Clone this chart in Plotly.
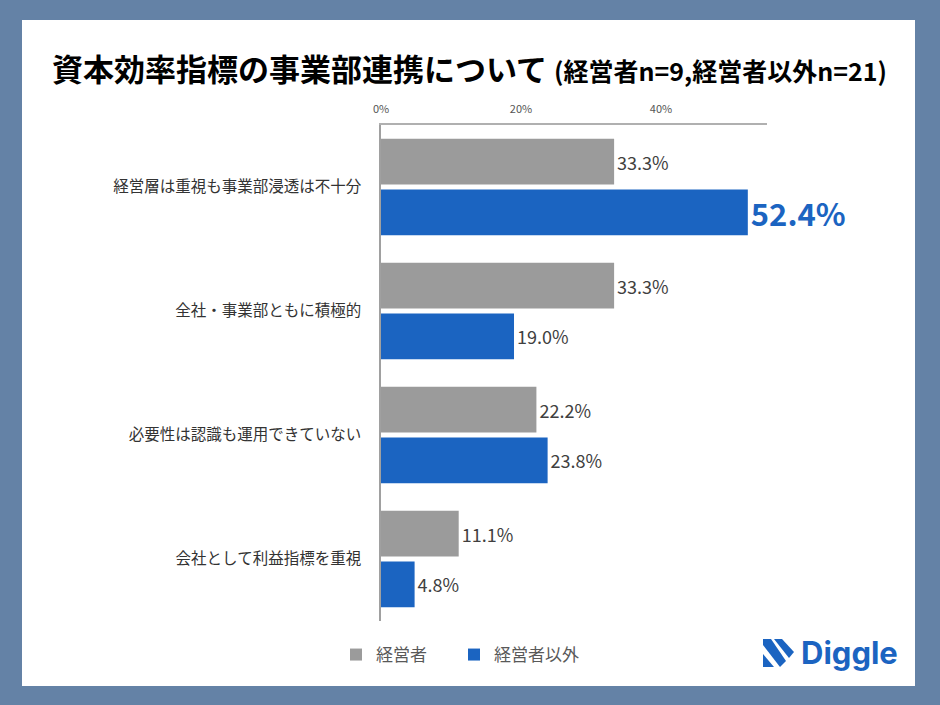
import plotly.graph_objects as go

categories = ["経営層は重視も事業部浸透は不十分", "全社・事業部ともに積極的", "必要性は認識も運用できていない", "会社として利益指標を重視"]
series_names = ["経営者", "経営者以外"]
exec_values = [33.3, 33.3, 22.2, 11.1]
nonexec_values = [52.4, 19.0, 23.8, 4.8]
tick_values = [0, 20, 40]
tick_labels = ["0%", "20%", "40%"]
title_main = "資本効率指標の事業部連携について"
title_sub = "(経営者n=9,経営者以外n=21)"
highlight_index = 0  # index of emphasised value in nonexec series

GRAY = "#9b9b9b"
BLUE = "#1b64c1"
FONT = "Noto Sans CJK JP"

W, H = 940, 705
L, R, T, B = 381, 173, 125, 84
PW, PH = W - L - R, H - T - B


def px(x):
    return (x - L) / PW


def py(y):
    return (H - B - y) / PH


exec_text = [f"{v:.1f}%" for v in exec_values]
nonexec_text = [f"<b>{v:.1f}%</b>" if i == highlight_index else f"{v:.1f}%" for i, v in enumerate(nonexec_values)]
nonexec_sizes = [31 if i == highlight_index else 18 for i in range(len(nonexec_values))]
nonexec_colors = [BLUE if i == highlight_index else "#404040" for i in range(len(nonexec_values))]

fig = go.Figure()
fig.add_trace(go.Bar(
    name=series_names[0], y=categories, x=exec_values, orientation="h",
    marker=dict(color=GRAY, line=dict(width=0)),
    text=exec_text, textposition="outside", cliponaxis=False, constraintext="none",
    textfont=dict(family=FONT, size=18, color="#404040"),
    hoverinfo="skip", legend="legend",
))
fig.add_trace(go.Bar(
    name=series_names[1], y=categories, x=nonexec_values, orientation="h",
    marker=dict(color=BLUE, line=dict(width=0)),
    text=nonexec_text, textposition="outside", cliponaxis=False, constraintext="none",
    textfont=dict(family=FONT, size=nonexec_sizes, color=nonexec_colors),
    hoverinfo="skip", legend="legend2",
))

shapes = [
    dict(type="rect", xref="paper", yref="paper", layer="below",
         x0=px(22), x1=px(915), y0=py(686), y1=py(20),
         fillcolor="white", line=dict(width=0)),
    # Diggle logo icon
    dict(type="path", xref="paper", yref="paper", fillcolor=BLUE, line=dict(width=0),
         path=f"M{px(763)},{py(639)} L{px(771)},{py(639)} L{px(786)},{py(661)} L{px(780)},{py(667)} L{px(763)},{py(645)} Z"),
    dict(type="path", xref="paper", yref="paper", fillcolor=BLUE, line=dict(width=0),
         path=f"M{px(774)},{py(639)} L{px(782)},{py(639)} L{px(794)},{py(652)} L{px(789)},{py(658)} Z"),
    dict(type="path", xref="paper", yref="paper", fillcolor=BLUE, line=dict(width=0),
         path=f"M{px(763)},{py(654)} L{px(763)},{py(667)} L{px(774)},{py(667)} Z"),
]

annotations = [
    dict(text="<b>Diggle</b>", xref="paper", yref="paper", x=px(799), y=py(652),
         xanchor="left", yanchor="middle", showarrow=False,
         font=dict(family="Inter", size=31, color=BLUE)),
]

legend_style = dict(
    orientation="h", y=py(655), xanchor="left", yanchor="middle",
    font=dict(family=FONT, size=17, color="#595959"),
    bgcolor="rgba(0,0,0,0)",
)

fig.update_layout(
    width=W, height=H,
    margin=dict(l=L, r=R, t=T, b=B, autoexpand=False),
    paper_bgcolor="#6482a6",
    plot_bgcolor="rgba(0,0,0,0)",
    barmode="group", bargap=0.18, bargroupgap=0.1,
    font=dict(family=FONT, color="#333333"),
    title=dict(
        text=f"<b>{title_main}</b> <b><span style='font-size:25px'>{title_sub}</span></b>",
        x=52 / W, xanchor="left", xref="container",
        y=1 - 70 / H, yanchor="middle", yref="container",
        font=dict(family=FONT, size=31, color="#000000"),
    ),
    xaxis=dict(
        side="top", range=[0, 55.14], tickvals=tick_values, ticktext=tick_labels,
        showgrid=False, zeroline=False, showline=True, linecolor="#b0b0b0", linewidth=1.5,
        ticks="", ticklabelstandoff=6, tickfont=dict(family=FONT, size=11, color="#555555"),
        fixedrange=True,
    ),
    yaxis=dict(
        autorange="reversed", showgrid=False, zeroline=False,
        showline=True, linecolor="#a0a0a0", linewidth=1.5,
        ticks="", ticklabelstandoff=15, tickfont=dict(family=FONT, size=15.5, color="#333333"),
        fixedrange=True,
    ),
    legend=dict(x=px(336), **legend_style),
    legend2=dict(x=px(454), **legend_style),
    shapes=shapes,
    annotations=annotations,
    showlegend=True,
)

fig.write_html(
    "out.html",
    config={"displayModeBar": False},
    post_script="document.body.style.margin='0';document.body.style.overflow='hidden';",
)
